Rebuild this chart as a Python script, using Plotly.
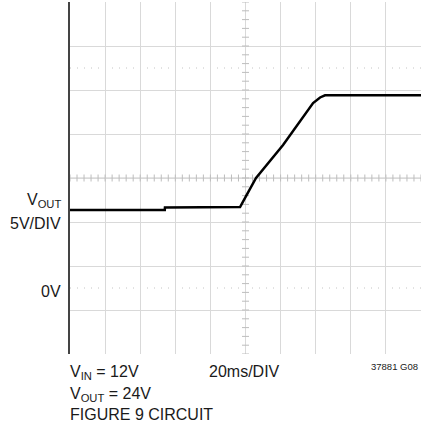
import numpy as np
import plotly.graph_objects as go

# ---- data ----
time_ms = [0.0, 54.0, 54.1, 96.9, 100.3, 106.0, 121.4, 132.8, 138.5, 142.5, 145.3, 200.0]
vout_v = [8.86, 8.86, 9.15, 9.20, 10.45, 12.5, 16.25, 19.43, 21.02, 21.65, 21.9, 21.9]

x_div_ms = 20.0      # 20ms/DIV
y_div_v = 5.0        # 5V/DIV
x_range = [0.0, 200.0]
y_range = [-7.5, 32.5]
center_t = 100.0
center_v = 12.5
marker_levels_v = [0.0, 25.0]

FONT = "Liberation Sans, Arial, sans-serif"
GRID = "#d9d9d9"
TXT = "#1a1a1a"

fig = go.Figure()

# graticule ticks on center lines
tx = np.arange(x_range[0], x_range[1] + 1e-9, x_div_ms / 5)
fig.add_trace(go.Scatter(x=tx, y=[center_v] * len(tx), mode="markers",
                         marker=dict(symbol="line-ns-open", size=5, color="#bdbdbd",
                                     line=dict(width=1, color="#bdbdbd")),
                         hoverinfo="skip", showlegend=False))
ty = np.arange(y_range[0], y_range[1] + 1e-9, y_div_v / 5)
fig.add_trace(go.Scatter(x=[center_t] * len(ty), y=ty, mode="markers",
                         marker=dict(symbol="line-ew-open", size=5, color="#bdbdbd",
                                     line=dict(width=1, color="#bdbdbd")),
                         hoverinfo="skip", showlegend=False))

# waveform
fig.add_trace(go.Scatter(x=time_ms, y=vout_v, mode="lines",
                         line=dict(color="black", width=2.5),
                         hoverinfo="skip", showlegend=False))

shapes = []
# center lines
shapes.append(dict(type="line", xref="x", yref="y", x0=x_range[0], x1=x_range[1],
                   y0=center_v, y1=center_v, line=dict(color="#c8c8c8", width=1), layer="below"))
shapes.append(dict(type="line", xref="x", yref="y", x0=center_t, x1=center_t,
                   y0=y_range[0], y1=y_range[1], line=dict(color="#c8c8c8", width=1, dash="3px,2px"),
                   layer="below"))
# dotted reference levels
for lv in marker_levels_v:
    shapes.append(dict(type="line", xref="x", yref="y", x0=x_range[0], x1=x_range[1],
                       y0=lv, y1=lv, line=dict(color="#c4c4c4", width=1, dash="1px,6px"),
                       layer="below"))


def txt(text, x, y, xanchor, yanchor, size=16, xref="paper", yref="paper", family=FONT):
    return dict(text=text, x=x, y=y, xref=xref, yref=yref, xanchor=xanchor,
                yanchor=yanchor, showarrow=False, align="left",
                font=dict(family=family, size=size, color=TXT))


annotations = [
    txt("V<sub>OUT</sub>", -0.02, 9.95, "right", "middle", yref="y"),
    txt("5V/DIV", -0.02, 7.35, "right", "middle", yref="y"),
    txt("0V", -0.02, -0.4, "right", "middle", yref="y"),
    txt("V<sub>IN</sub> = 12V", -0.006, -0.0199, "left", "top"),
    txt("V<sub>OUT</sub> = 24V", -0.006, -0.0824, "left", "top"),
    txt("FIGURE 9 CIRCUIT", -0.006, -0.142, "left", "top"),
    txt("20ms/DIV", 0.497, -0.0199, "center", "top"),
    txt("37881 G08", 0.998, -0.013, "right", "top", size=9.5),
]

fig.update_layout(
    width=423, height=429,
    margin=dict(l=70, r=2, t=2, b=75),
    paper_bgcolor="white", plot_bgcolor="white",
    shapes=shapes, annotations=annotations,
    xaxis=dict(range=x_range, tick0=0, dtick=x_div_ms, showgrid=True, gridcolor=GRID,
               gridwidth=1, showticklabels=False, zeroline=False, ticks="",
               showline=False, fixedrange=True),
    yaxis=dict(range=y_range, tick0=y_range[0], dtick=y_div_v, showgrid=True,
               gridcolor=GRID, gridwidth=1, showticklabels=False, zeroline=False,
               ticks="", showline=True, linecolor="#444", linewidth=2, fixedrange=True),
)

fig.write_html("out.html", config={"displayModeBar": False, "staticPlot": True},
               post_script="document.body.style.margin='0px';")
